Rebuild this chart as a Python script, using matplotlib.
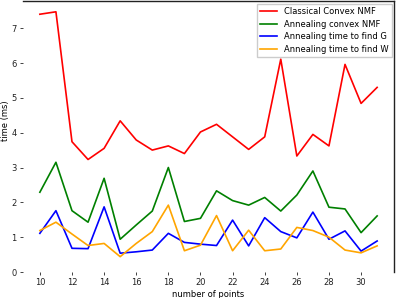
import matplotlib
matplotlib.use("Agg")
import matplotlib.pyplot as plt

n_points = list(range(10, 32))
classical = [7.40, 7.47, 3.74, 3.23, 3.55, 4.34, 3.79, 3.50, 3.62, 3.40, 4.02, 4.24,
             3.88, 3.52, 3.88, 6.11, 3.33, 3.95, 3.62, 5.96, 4.84, 5.30]
annealing = [2.29, 3.15, 1.76, 1.43, 2.69, 0.94, 1.35, 1.75, 3.00, 1.45, 1.54, 2.33,
             2.05, 1.92, 2.14, 1.75, 2.21, 2.90, 1.86, 1.81, 1.13, 1.61]
time_g = [1.11, 1.76, 0.68, 0.67, 1.87, 0.54, 0.58, 0.63, 1.11, 0.85, 0.80, 0.76,
          1.49, 0.75, 1.56, 1.16, 0.98, 1.72, 0.94, 1.18, 0.60, 0.89]
time_w = [1.19, 1.43, 1.09, 0.76, 0.82, 0.44, 0.82, 1.16, 1.92, 0.61, 0.77, 1.62,
          0.61, 1.20, 0.61, 0.66, 1.28, 1.19, 1.00, 0.63, 0.55, 0.75]
labels = ["Classical Convex NMF", "Annealing convex NMF",
          "Annealing time to find G", "Annealing time to find W"]
colors = ["red", "green", "blue", "orange"]
xticks = list(range(10, 31, 2))
yticks = list(range(0, 8))

W, H = 396, 298
fig = plt.figure(figsize=(W / 100, H / 100), dpi=100)
ax = fig.add_axes([23 / W, (H - 272) / H, (394 - 23) / W, 271 / H])

for ys, lab, c in zip([classical, annealing, time_g, time_w], labels, colors):
    ax.plot(n_points, ys, color=c, lw=1.2, label=lab)

ax.set_xlim(8.95, 32.05)
ax.set_ylim(0, 7.78)
ax.set_xticks(xticks)
ax.set_yticks(yticks)
ax.tick_params(labelsize=6, length=2.5, width=0.6, pad=2, colors="#222222")
for s in ["left", "bottom"]:
    ax.spines[s].set_visible(False)
for s in ["top", "right"]:
    ax.spines[s].set_linewidth(1.0)
    ax.spines[s].set_color("#222222")

ax.set_xlabel("number of points", fontsize=6, labelpad=2)
ax.set_ylabel("time (ms)", fontsize=6)
ax.yaxis.set_label_coords(-0.035, 0.56)

ax.legend(loc="upper right", fontsize=6, borderaxespad=0.3, framealpha=1,
          edgecolor="#cccccc", fancybox=False, labelspacing=0.45)

fig.savefig("out.png", dpi=100)
